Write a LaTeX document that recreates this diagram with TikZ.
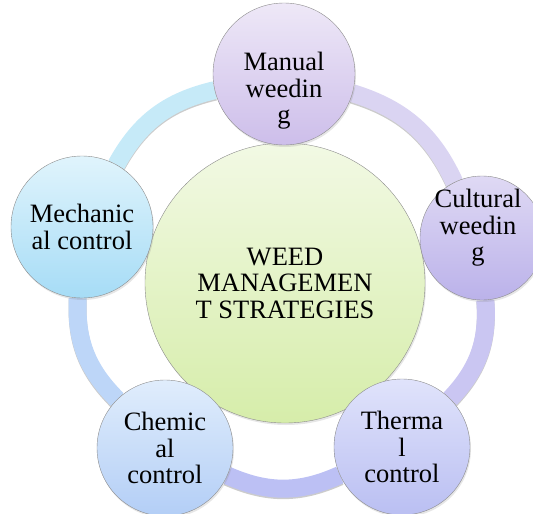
\documentclass[tikz,border=0pt]{standalone}
\usepackage{fontspec}
\setmainfont{Liberation Serif}
\usetikzlibrary{backgrounds,shadows}
\definecolor{gris}{rgb}{0.55,0.55,0.55}
\definecolor{cvert1}{HTML}{F2F9E4}
\definecolor{cvert2}{HTML}{D6EDAA}
\definecolor{cmauve1}{HTML}{EEE8F7}
\definecolor{cmauve2}{HTML}{CDBEEA}
\definecolor{clilas1}{HTML}{DFD9F4}
\definecolor{clilas2}{HTML}{BBB2EA}
\definecolor{cpervenche1}{HTML}{E0E3FB}
\definecolor{cpervenche2}{HTML}{BABFF2}
\definecolor{cbleu1}{HTML}{E0EDFC}
\definecolor{cbleu2}{HTML}{B3CEF6}
\definecolor{cciel1}{HTML}{E0F4FC}
\definecolor{cciel2}{HTML}{A6DCF6}
\definecolor{aciel}{HTML}{C6EAF8}
\definecolor{amauve}{HTML}{DAD4F2}
\definecolor{alilas}{HTML}{CAC6F2}
\definecolor{apervenche}{HTML}{BCC0F4}
\definecolor{ableu}{HTML}{BDD6F8}

\begin{document}
\begin{tikzpicture}[x=1pt, y=-1pt, font=\fontsize{26.5}{26.5}\selectfont]
	\tikzstyle{strat}=[circle, minimum size=136pt, inner sep=0pt, draw=gris, align=center, text=black,
		drop shadow={opacity=0.2, shadow xshift=1pt, shadow yshift=-2pt}]
	\tikzstyle{texte}=[align=center, text=black]
	\tikzstyle{anneau}=[line width=18pt, bend right=24,
		preaction={draw=black!20, line width=18pt, transform canvas={yshift=-1.5pt}}]

	\useasboundingbox (0,0) rectangle (533,514);

	% CENTRE
	\node[strat, minimum size=280pt, top color=cvert1, bottom color=cvert2] (W) at (285,283)
		{WEED\\MANAGEMEN\\T STRATEGIES};

	% STRATEGIES
	\node[strat, top color=cmauve1, bottom color=cmauve2, minimum size=142pt,
		label={[texte, yshift=-17pt]center:{Manual\\weedin\\g}}] (MAN) at (284,74) {};
	\node[strat, top color=clilas1, bottom color=clilas2, minimum size=124pt,
		label={[texte, xshift=-4pt, yshift=10pt]center:{Cultural\\weedin\\g}}] (CUL) at (482,238) {};
	\node[strat, top color=cpervenche1, bottom color=cpervenche2] (THE) at (402,447) {Therma\\l\\control};
	\node[strat, top color=cbleu1, bottom color=cbleu2] (CHI) at (165,448) {Chemic\\al\\control};
	\node[strat, top color=cciel1, bottom color=cciel2, minimum size=142pt] (MEC) at (82,227) {Mechanic\\al control};

	% ANNEAU
	\begin{pgfonlayer}{background}
	\path
		(MAN) edge [anneau, draw=aciel] (MEC)
		(MEC) edge [anneau, draw=ableu] (CHI)
		(CHI) edge [anneau, draw=apervenche] (THE)
		(THE) edge [anneau, draw=alilas] (CUL)
		(CUL) edge [anneau, draw=amauve] (MAN)
	;
	\end{pgfonlayer}
\end{tikzpicture}
\end{document}
